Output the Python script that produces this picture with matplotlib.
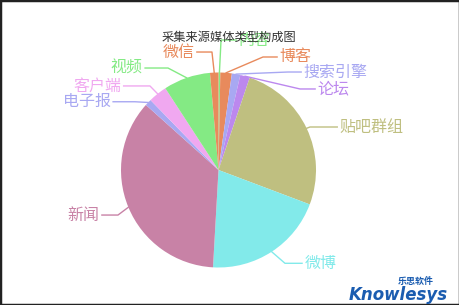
import matplotlib.pyplot as plt
from matplotlib.patches import Rectangle
import numpy as np

plt.rcParams['font.family'] = ['Noto Sans CJK SC', 'DejaVu Sans']

# data (clockwise from 12 o'clock)
sources = ['内容', '博客', '搜索引擎', '论坛', '贴吧群组', '微博', '新闻', '电子报', '客户端', '视频', '微信']
counts = [3, 19, 14, 16, 256, 202, 358, 11, 31, 78, 14]
colors = ['#84ea84', '#e88a5c', '#a8a8f2', '#bc88ee', '#bfbf80', '#82eaea',
          '#c882a6', '#a8a8f2', '#f0a8f0', '#84ea84', '#e88a5c']

# label layout: elbow point (pie radius units) and horizontal run
elbows = [(0.026, 1.333), (0.456, 1.159), (0.713, 1.005), (0.836, 0.831),
          (0.938, 0.441), (0.682, -0.957), (-1.031, -0.462), (-0.856, 0.700),
          (-0.703, 0.862), (-0.518, 1.046), (-0.067, 1.210)]
runs = [0.155, 0.145, 0.135, 0.155, 0.28, 0.175, -0.165, -0.225, -0.27, -0.235, -0.155]

W, H = 460, 305
cx, cy, R = 218.5, 170, 97.5

fig = plt.figure(figsize=(W / 100, H / 100), dpi=100)
ax = fig.add_axes([0, 0, 1, 1])
wedges, _ = ax.pie(counts, colors=colors, startangle=90, counterclock=False,
                   radius=1, wedgeprops=dict(linewidth=0))
ax.set_aspect('auto')
ax.set_xlim(-cx / R, (W - cx) / R)
ax.set_ylim((cy - H) / R, cy / R)
ax.axis('off')

for w, name, col, (ex, ey), run in zip(wedges, sources, colors, elbows, runs):
    mid = np.deg2rad((w.theta1 + w.theta2) / 2)
    sx, sy = np.cos(mid), np.sin(mid)
    ax.plot([sx, ex, ex + run], [sy, ey, ey], color=col, lw=1, zorder=3)
    ha = 'left' if run > 0 else 'right'
    off = 0.025 if run > 0 else -0.025
    ax.text(ex + run + off, ey, name, color=col, fontsize=11.5, ha=ha, va='center', zorder=4)

fig.text(229 / W, 1 - 37 / H, '采集来源媒体类型构成图', fontsize=8.8, color='#333333',
         ha='center', va='center', zorder=10)

# watermark logo
fig.text(434 / W, 1 - 281.5 / H, '乐思软件', fontsize=6.5, color='#1a5cb0',
         ha='right', va='center', fontweight='bold')
fig.text(398 / W, 1 - 294.5 / H, 'Knowlesys', fontsize=12, color='#1a5cb0',
         ha='center', va='center', fontweight='bold', fontstyle='italic',
         family=['Liberation Sans Narrow', 'DejaVu Sans'])

fig.patches.append(Rectangle((0, 0), 1, 1, transform=fig.transFigure, fill=False,
                             edgecolor='#222222', linewidth=2.5))

fig.savefig('out.png', dpi=100)
